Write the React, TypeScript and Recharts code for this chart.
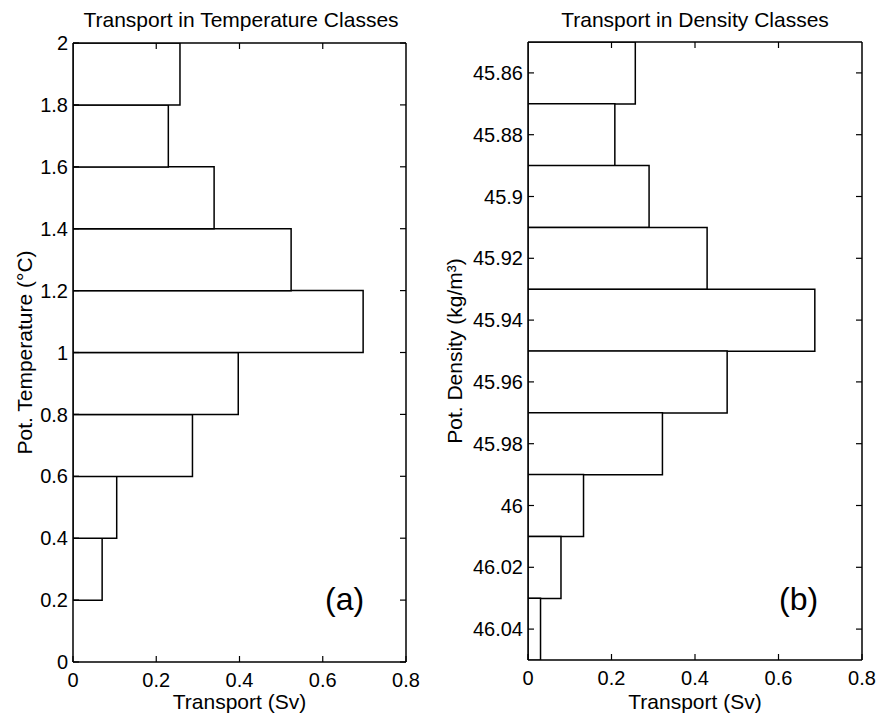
import { ComposedChart, Bar, Line, XAxis, YAxis } from 'recharts';

// temperature classes (bin centres, °C) and transport per class (Sv)
const tempClasses = [0.1, 0.3, 0.5, 0.7, 0.9, 1.1, 1.3, 1.5, 1.7, 1.9];
const tempTransport = [0, 0.07, 0.105, 0.287, 0.397, 0.697, 0.524, 0.339, 0.229, 0.257];
const tempTicks = [0, 0.2, 0.4, 0.6, 0.8, 1, 1.2, 1.4, 1.6, 1.8, 2];

// density classes (bin centres, kg/m3) and transport per class (Sv)
const densClasses = [45.86, 45.88, 45.9, 45.92, 45.94, 45.96, 45.98, 46, 46.02, 46.04];
const densTransport = [0.257, 0.208, 0.29, 0.429, 0.687, 0.477, 0.322, 0.133, 0.079, 0.03];
const densTicks = [45.86, 45.88, 45.9, 45.92, 45.94, 45.96, 45.98, 46, 46.02, 46.04];

const transportTicks = [0, 0.2, 0.4, 0.6, 0.8];
const innerTransportTicks = [0.2, 0.4, 0.6];

const FONT = '"Liberation Sans", Arial, Helvetica, sans-serif';
const INK = '#000';

interface PanelProps {
  classes: number[];
  transport: number[];
  yDomain: [number, number];
  yTicks: number[];
  reversed?: boolean;
  yLabel: string;
  title: string;
  tag: string;
  left: number;
  width: number;
  yAxisWidth: number;
  labelOffset: number;
  marginTop: number;
  marginRight: number;
  xAxisHeight: number;
  titleCenter: number;
  tagLeft: number;
}

const noLabel = () => '';

function HistPanel(p: PanelProps) {
  const data = p.classes.map((c, i) => ({ cls: c, transport: p.transport[i] }));
  const tickStyle = { fontSize: 20, fill: INK, fontFamily: FONT };
  const labelStyle = { fontSize: 21, fill: INK, fontFamily: FONT };
  const axisLine = { stroke: INK, strokeWidth: 1.5 };
  const tickLine = { stroke: INK, strokeWidth: 1.2 };

  return (
    <>
      <div
        style={{
          position: 'absolute',
          left: p.titleCenter - 200,
          width: 400,
          top: 9,
          textAlign: 'center',
          fontFamily: FONT,
          fontSize: 21,
          lineHeight: '21px',
          color: INK,
        }}
      >
        {p.title}
      </div>
      <div style={{ position: 'absolute', left: p.left, top: 0 }}>
        <ComposedChart
          width={p.width}
          height={715}
          data={data}
          layout="vertical"
          barCategoryGap={0}
          margin={{ top: p.marginTop, right: p.marginRight, bottom: 0, left: 0 }}
        >
          <XAxis
            xAxisId="bottom"
            type="number"
            domain={[0, 0.8]}
            ticks={transportTicks}
            orientation="bottom"
            height={p.xAxisHeight}
            tick={tickStyle}
            tickSize={-6}
            tickMargin={17}
            axisLine={axisLine}
            tickLine={tickLine}
            allowDataOverflow
            label={{
              value: 'Transport (Sv)',
              position: 'insideBottom',
              offset: 6,
              style: labelStyle,
            }}
          />
          <XAxis
            xAxisId="top"
            type="number"
            domain={[0, 0.8]}
            ticks={innerTransportTicks}
            orientation="top"
            height={1}
            tickFormatter={noLabel}
            tickSize={-6}
            axisLine={axisLine}
            tickLine={tickLine}
            allowDataOverflow
          />
          <YAxis
            yAxisId="left"
            type="number"
            dataKey="cls"
            domain={p.yDomain}
            ticks={p.yTicks}
            reversed={p.reversed}
            width={p.yAxisWidth}
            tick={tickStyle}
            tickSize={-6}
            tickMargin={11}
            interval={0}
            axisLine={axisLine}
            tickLine={tickLine}
            allowDataOverflow
            label={{
              value: p.yLabel,
              angle: -90,
              position: 'insideLeft',
              offset: p.labelOffset,
              textAnchor: 'middle',
              style: { ...labelStyle, textAnchor: 'middle' },
            }}
          />
          <YAxis
            yAxisId="right"
            type="number"
            dataKey="cls"
            orientation="right"
            domain={p.yDomain}
            ticks={p.yTicks}
            reversed={p.reversed}
            width={1}
            tickFormatter={noLabel}
            tickSize={-6}
            interval={0}
            axisLine={axisLine}
            tickLine={tickLine}
            allowDataOverflow
          />
          <Bar
            xAxisId="bottom"
            yAxisId="left"
            dataKey="transport"
            fill="#fff"
            stroke={INK}
            strokeWidth={1.5}
            isAnimationActive={false}
          />
          {/* invisible series so the top and right frame axes get their scales */}
          <Line
            xAxisId="top"
            yAxisId="right"
            dataKey="transport"
            stroke="none"
            dot={false}
            activeDot={false}
            legendType="none"
            isAnimationActive={false}
          />
        </ComposedChart>
      </div>
      <div
        style={{
          position: 'absolute',
          left: p.tagLeft,
          top: 583,
          fontFamily: FONT,
          fontSize: 32,
          lineHeight: '32px',
          color: INK,
        }}
      >
        {p.tag}
      </div>
    </>
  );
}

export default function App() {
  return (
    <div
      style={{
        position: 'absolute',
        left: 0,
        top: 0,
        width: 878,
        height: 715,
        background: '#fff',
        overflow: 'hidden',
      }}
    >
      {/* in a vertical layout the numeric y axis runs top-down, so temperature is flipped */}
      <HistPanel
        classes={tempClasses}
        transport={tempTransport}
        yDomain={[0, 2]}
        yTicks={tempTicks}
        reversed
        yLabel="Pot. Temperature (°C)"
        title="Transport in Temperature Classes"
        tag="(a)"
        left={0}
        width={440}
        yAxisWidth={73}
        labelOffset={25}
        marginTop={42}
        marginRight={33}
        xAxisHeight={53}
        titleCenter={241}
        tagLeft={325}
      />
      <HistPanel
        classes={densClasses}
        transport={densTransport}
        yDomain={[45.85, 46.05]}
        yTicks={densTicks}
        yLabel="Pot. Density (kg/m³)"
        title="Transport in Density Classes"
        tag="(b)"
        left={440}
        width={438}
        yAxisWidth={88}
        labelOffset={15}
        marginTop={41}
        marginRight={15}
        xAxisHeight={55}
        titleCenter={695}
        tagLeft={779}
      />
    </div>
  );
}
